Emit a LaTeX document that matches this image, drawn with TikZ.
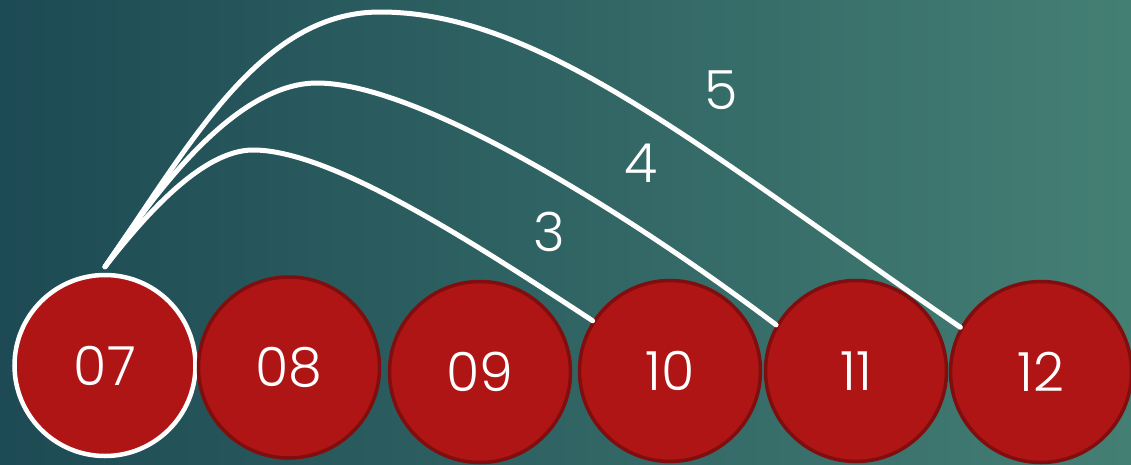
\documentclass[tikz,border=0pt]{standalone}
\usepackage{fontspec}
\setmainfont{Poppins Light}
\definecolor{bgl}{HTML}{1D4A54}
\definecolor{bgr}{HTML}{447F74}
\definecolor{ballred}{HTML}{B01515}
\definecolor{ballrim}{HTML}{800E0E}
\begin{document}
\begin{tikzpicture}[x=1pt,y=-1pt,
  ball/.style={circle, minimum size=181pt, inner sep=0pt, fill=ballred, draw=ballrim,
    line width=3.5pt, text=white, font=\fontsize{54}{60}\selectfont},
  firstball/.style={ball, draw=white, line width=4.5pt},
  jump/.style={draw=white, line width=5pt, line cap=round},
  steplabel/.style={text=white, font=\fontsize{54}{60}\selectfont, inner sep=0pt}]
\useasboundingbox (0,0) rectangle (1131,464);
\clip (0,0) rectangle (1131,464);
\shade[left color=bgl, right color=bgr] (0,0) rectangle (1131,464);

\node[firstball] (n07) at (105,365.5) {07};
\node[ball] (n08) at (289,367.5) {08};
\node[ball] (n09) at (480,372) {09};
\node[ball] (n10) at (670,371) {10};
\node[ball] (n11) at (856,371) {11};
\node[ball] (n12) at (1041,372) {12};

\coordinate (s) at ([yshift=6pt]n07.north);

\draw[jump] (s) .. controls (140,222) and (200,150) .. (253,150)
  .. controls (330,150) and (468,239) .. (n10.147.5);
\draw[jump] (s) .. controls (145,208) and (230,83) .. (317,83)
  .. controls (420,83) and (632,216) .. (n11.150);
\draw[jump] (s) .. controls (190,145) and (260,12) .. (380,12)
  .. controls (540,12) and (700,148) .. (n12.151);

\node[steplabel] (l3) at (549,232) {3};
\node[steplabel] (l4) at (641,163) {4};
\node[steplabel] (l5) at (721,90) {5};
\end{tikzpicture}
\end{document}
